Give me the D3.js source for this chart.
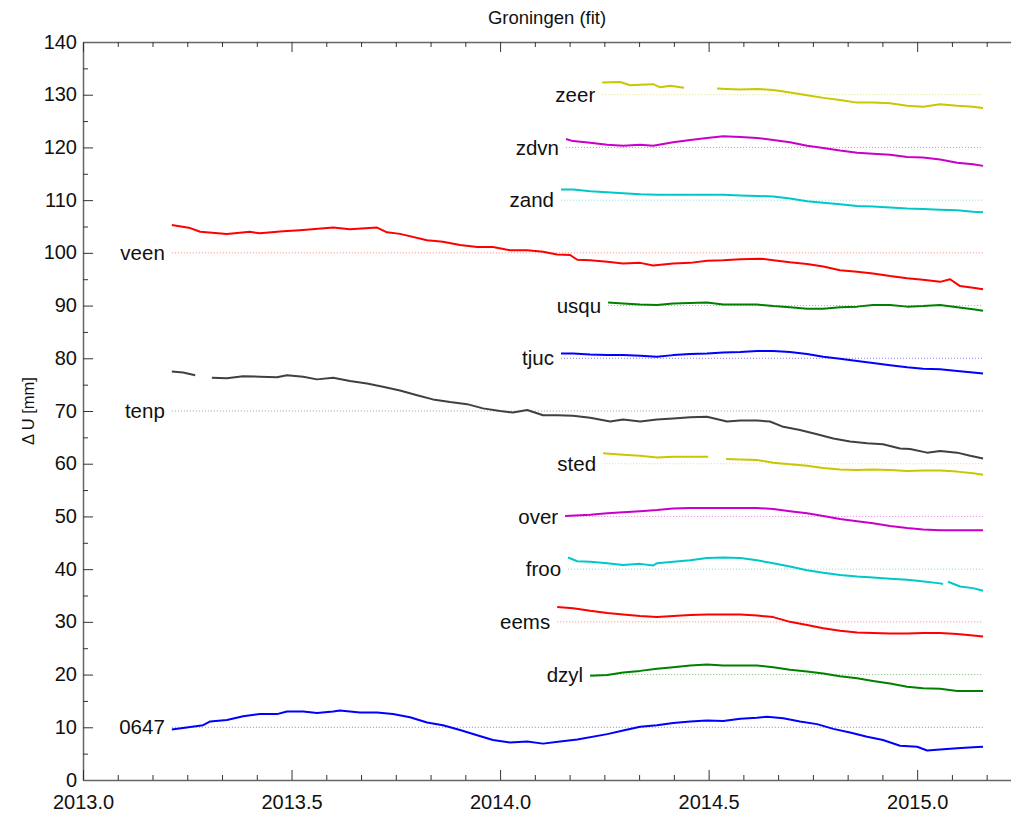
<!DOCTYPE html>
<html><head><meta charset="utf-8">
<script src="https://cdn.jsdelivr.net/npm/d3@7"></script>
<style>
html,body{margin:0;padding:0;background:#fff;}
svg{display:block;font-family:"Liberation Sans",Arial,sans-serif;}
</style></head>
<body><svg id="c" width="1011" height="814"></svg>
<script>
// ---- data ----
const stationNames = ["0647","dzyl","eems","froo","over","sted","tenp","tjuc","usqu","veen","zand","zdvn","zeer"];
const stationOffsets = [10,20,30,40,50,60,70,80,90,100,110,120,130];
const stationColors = ["#0000ff","#008000","#ff0000","#00c8c8","#c800c8","#c8c800","#404040","#0000ff","#008000","#ff0000","#00c8c8","#c800c8","#c8c800"];
const xMajorTicks = [2013.0,2013.5,2014.0,2014.5,2015.0];
const yMajorTicks = [0,10,20,30,40,50,60,70,80,90,100,110,120,130,140];

const s0647 = [[2013.213,9.6],[2013.288,10.4],[2013.305,11.1],[2013.345,11.4],[2013.384,12.1],[2013.424,12.5],[2013.465,12.5],[2013.489,13.0],[2013.528,13.0],[2013.561,12.7],[2013.600,13.0],[2013.616,13.2],[2013.664,12.8],[2013.705,12.8],[2013.743,12.5],[2013.784,11.9],[2013.825,10.9],[2013.863,10.4],[2013.904,9.5],[2013.945,8.5],[2013.983,7.6],[2014.024,7.1],[2014.065,7.3],[2014.103,6.9],[2014.144,7.3],[2014.185,7.7],[2014.257,8.7],[2014.295,9.4],[2014.336,10.1],[2014.376,10.4],[2014.415,10.8],[2014.456,11.1],[2014.496,11.3],[2014.535,11.2],[2014.576,11.6],[2014.616,11.8],[2014.640,12.0],[2014.679,11.7],[2014.719,11.1],[2014.760,10.6],[2014.799,9.7],[2014.839,9.0],[2014.880,8.2],[2014.918,7.6],[2014.959,6.5],[2015.000,6.3],[2015.024,5.6],[2015.055,5.8],[2015.096,6.0],[2015.134,6.2],[2015.158,6.3]];
const sDzyl = [[2014.216,19.8],[2014.257,19.9],[2014.295,20.4],[2014.336,20.7],[2014.376,21.1],[2014.415,21.4],[2014.456,21.7],[2014.496,21.9],[2014.535,21.7],[2014.576,21.7],[2014.616,21.7],[2014.655,21.4],[2014.695,20.9],[2014.736,20.6],[2014.775,20.2],[2014.815,19.7],[2014.856,19.3],[2014.894,18.8],[2014.935,18.3],[2014.976,17.7],[2015.014,17.4],[2015.055,17.3],[2015.096,16.9],[2015.134,16.9],[2015.158,16.9]];
const sEems = [[2014.137,32.8],[2014.175,32.6],[2014.216,32.1],[2014.257,31.7],[2014.295,31.4],[2014.336,31.1],[2014.376,30.9],[2014.415,31.1],[2014.456,31.3],[2014.496,31.4],[2014.535,31.4],[2014.576,31.4],[2014.616,31.2],[2014.655,30.9],[2014.695,30.0],[2014.736,29.4],[2014.775,28.8],[2014.815,28.3],[2014.856,28.0],[2014.894,27.9],[2014.935,27.8],[2014.976,27.8],[2015.014,27.9],[2015.055,27.9],[2015.096,27.7],[2015.134,27.4],[2015.158,27.2]];
const sFroo = [[2014.163,42.2],[2014.185,41.5],[2014.216,41.4],[2014.257,41.1],[2014.295,40.8],[2014.336,41.0],[2014.367,40.7],[2014.376,41.1],[2014.415,41.4],[2014.456,41.7],[2014.496,42.1],[2014.535,42.2],[2014.576,42.1],[2014.616,41.7],[2014.655,41.1],[2014.695,40.5],[2014.736,39.8],[2014.775,39.3],[2014.815,38.9],[2014.856,38.6],[2014.894,38.4],[2014.935,38.2],[2014.976,38.0],[2015.000,37.8],[2015.055,37.3],[2015.062,37.2],[2015.068,null],[2015.074,37.6],[2015.103,36.7],[2015.134,36.4],[2015.158,35.9]];
const sOver = [[2014.156,50.1],[2014.216,50.3],[2014.257,50.6],[2014.295,50.8],[2014.336,51.0],[2014.376,51.2],[2014.415,51.5],[2014.456,51.6],[2014.496,51.6],[2014.535,51.6],[2014.576,51.6],[2014.616,51.6],[2014.655,51.4],[2014.695,51.0],[2014.736,50.6],[2014.775,50.1],[2014.815,49.5],[2014.856,49.1],[2014.894,48.7],[2014.935,48.2],[2014.976,47.8],[2015.014,47.5],[2015.055,47.4],[2015.096,47.4],[2015.134,47.4],[2015.158,47.4]];
const sSted = [[2014.247,62.0],[2014.295,61.7],[2014.336,61.5],[2014.376,61.2],[2014.415,61.3],[2014.456,61.3],[2014.499,61.3],[2014.520,null],[2014.542,60.9],[2014.576,60.8],[2014.616,60.7],[2014.655,60.2],[2014.695,59.9],[2014.736,59.6],[2014.775,59.2],[2014.815,58.9],[2014.856,58.8],[2014.894,58.9],[2014.935,58.8],[2014.976,58.6],[2015.014,58.7],[2015.055,58.7],[2015.096,58.5],[2015.134,58.2],[2015.158,57.9]];
const sTenp = [[2013.213,77.5],[2013.240,77.3],[2013.269,76.8],[2013.290,null],[2013.309,76.3],[2013.345,76.2],[2013.384,76.6],[2013.424,76.5],[2013.465,76.4],[2013.489,76.8],[2013.528,76.5],[2013.561,76.0],[2013.600,76.3],[2013.640,75.7],[2013.681,75.2],[2013.719,74.6],[2013.760,73.9],[2013.801,73.0],[2013.839,72.2],[2013.880,71.7],[2013.921,71.3],[2013.959,70.5],[2014.000,70.0],[2014.031,69.7],[2014.065,70.2],[2014.103,69.2],[2014.137,69.2],[2014.175,69.1],[2014.216,68.7],[2014.264,68.0],[2014.295,68.4],[2014.336,68.0],[2014.376,68.4],[2014.415,68.6],[2014.456,68.8],[2014.496,68.9],[2014.544,68.0],[2014.576,68.2],[2014.616,68.2],[2014.647,68.0],[2014.679,67.0],[2014.719,66.4],[2014.760,65.6],[2014.799,64.8],[2014.839,64.2],[2014.880,63.9],[2014.918,63.7],[2014.959,62.9],[2014.983,62.8],[2015.024,62.1],[2015.055,62.4],[2015.096,62.1],[2015.127,61.5],[2015.158,61.0]];
const sTjuc = [[2014.146,80.9],[2014.175,80.9],[2014.216,80.7],[2014.257,80.6],[2014.295,80.6],[2014.336,80.5],[2014.376,80.3],[2014.415,80.6],[2014.456,80.8],[2014.496,80.9],[2014.535,81.1],[2014.576,81.2],[2014.616,81.4],[2014.655,81.4],[2014.695,81.2],[2014.736,80.8],[2014.775,80.3],[2014.815,79.9],[2014.856,79.5],[2014.894,79.1],[2014.935,78.7],[2014.976,78.3],[2015.014,78.0],[2015.055,77.9],[2015.096,77.6],[2015.134,77.3],[2015.158,77.1]];
const sUsqu = [[2014.259,90.6],[2014.295,90.4],[2014.336,90.2],[2014.376,90.1],[2014.415,90.4],[2014.456,90.5],[2014.496,90.6],[2014.535,90.2],[2014.576,90.2],[2014.616,90.2],[2014.655,89.9],[2014.695,89.7],[2014.736,89.4],[2014.775,89.4],[2014.815,89.7],[2014.856,89.8],[2014.894,90.1],[2014.935,90.1],[2014.976,89.8],[2015.014,89.9],[2015.055,90.1],[2015.096,89.7],[2015.134,89.3],[2015.158,89.0]];
const sVeen = [[2013.213,105.3],[2013.257,104.7],[2013.281,104.0],[2013.345,103.6],[2013.400,104.0],[2013.424,103.7],[2013.480,104.1],[2013.520,104.3],[2013.600,104.8],[2013.640,104.5],[2013.705,104.8],[2013.729,103.9],[2013.760,103.6],[2013.825,102.4],[2013.863,102.1],[2013.904,101.5],[2013.945,101.1],[2013.983,101.1],[2014.024,100.5],[2014.065,100.5],[2014.103,100.2],[2014.137,99.7],[2014.168,99.6],[2014.185,98.7],[2014.216,98.6],[2014.257,98.3],[2014.295,98.0],[2014.336,98.1],[2014.367,97.6],[2014.415,98.0],[2014.456,98.1],[2014.496,98.5],[2014.535,98.6],[2014.576,98.8],[2014.624,98.9],[2014.655,98.6],[2014.695,98.2],[2014.736,97.9],[2014.775,97.4],[2014.815,96.7],[2014.856,96.4],[2014.894,96.1],[2014.935,95.6],[2014.976,95.2],[2015.014,94.9],[2015.055,94.5],[2015.079,95.0],[2015.103,93.7],[2015.134,93.4],[2015.158,93.1]];
const sZand = [[2014.146,112.0],[2014.175,112.0],[2014.216,111.7],[2014.257,111.5],[2014.295,111.3],[2014.336,111.1],[2014.376,111.0],[2014.415,111.0],[2014.456,111.0],[2014.496,111.0],[2014.535,111.0],[2014.576,110.9],[2014.616,110.8],[2014.655,110.7],[2014.695,110.3],[2014.736,109.8],[2014.775,109.5],[2014.815,109.2],[2014.856,108.9],[2014.894,108.8],[2014.935,108.6],[2014.976,108.4],[2015.014,108.3],[2015.055,108.2],[2015.096,108.1],[2015.134,107.8],[2015.158,107.7]];
const sZdvn = [[2014.158,121.6],[2014.175,121.2],[2014.216,120.9],[2014.257,120.5],[2014.295,120.3],[2014.336,120.5],[2014.367,120.3],[2014.415,121.0],[2014.456,121.4],[2014.496,121.8],[2014.535,122.1],[2014.576,122.0],[2014.616,121.8],[2014.655,121.4],[2014.695,121.0],[2014.736,120.3],[2014.775,119.9],[2014.815,119.4],[2014.856,119.0],[2014.894,118.8],[2014.935,118.6],[2014.976,118.2],[2015.014,118.1],[2015.055,117.7],[2015.096,117.1],[2015.134,116.8],[2015.158,116.5]];
const sZeer = [[2014.245,132.3],[2014.288,132.4],[2014.312,131.8],[2014.336,131.9],[2014.367,132.0],[2014.384,131.4],[2014.408,131.7],[2014.441,131.3],[2014.480,null],[2014.520,131.2],[2014.544,131.1],[2014.576,131.0],[2014.616,131.1],[2014.655,130.9],[2014.695,130.4],[2014.736,129.9],[2014.775,129.4],[2014.815,129.0],[2014.856,128.5],[2014.894,128.5],[2014.935,128.4],[2014.976,127.9],[2015.014,127.7],[2015.055,128.2],[2015.096,127.9],[2015.134,127.7],[2015.158,127.5]];
const seriesData = [s0647,sDzyl,sEems,sFroo,sOver,sSted,sTenp,sTjuc,sUsqu,sVeen,sZand,sZdvn,sZeer];

// ---- layout ----
const svg = d3.select("#c");
const L = 83, R = 1011, T = 42, B = 780;
const x = d3.scaleLinear().domain([2013.0, 2015.225]).range([L, R]);
const y = d3.scaleLinear().domain([0, 140]).range([B, T]);

const xMinor = d3.range(0, 27).map(k => 2013 + k/12).filter((v,i) => i % 6 !== 0);
const yMinor = d3.range(5, 140, 10);

// reference dotted lines
seriesData.forEach((s, i) => {
  const t0 = s[0][0], t1 = s[s.length-1][0];
  svg.append("line")
    .attr("x1", x(t0)).attr("x2", x(t1))
    .attr("y1", y(stationOffsets[i])).attr("y2", y(stationOffsets[i]))
    .attr("stroke", stationColors[i]).attr("stroke-opacity", 0.5)
    .attr("stroke-width", 1).attr("stroke-dasharray", "1,2");
});

// series lines
const line = d3.line().defined(d => d[1] != null).x(d => x(d[0])).y(d => y(d[1]));
seriesData.forEach((s, i) => {
  svg.append("path").datum(s).attr("d", line)
    .attr("fill", "none").attr("stroke", stationColors[i])
    .attr("stroke-width", 2).attr("stroke-linejoin", "round");
  svg.append("text")
    .attr("x", x(s[0][0]) - 7).attr("y", y(stationOffsets[i]))
    .attr("text-anchor", "end").attr("dy", "0.35em")
    .attr("font-size", 20.5).attr("fill", "#111")
    .text(stationNames[i]);
});

// axes
function styleAxis(g) {
  g.select(".domain").attr("stroke", "#666").attr("stroke-width", 1.5);
  g.selectAll(".tick line").attr("stroke", "#333");
  g.selectAll(".tick text").attr("font-size", 20).attr("fill", "#111")
    .attr("font-family", '"Liberation Sans",Arial,sans-serif');
}
// left
svg.append("g").attr("transform", `translate(${L},0)`)
  .call(d3.axisLeft(y).tickValues(yMajorTicks).tickSize(-10).tickSizeOuter(0).tickPadding(6).tickFormat(d3.format("d")))
  .call(styleAxis)
  .call(g => g.selectAll(".tick text").attr("dy", "0.3em"));
svg.append("g").attr("transform", `translate(${L},0)`)
  .call(d3.axisLeft(y).tickValues(yMinor).tickSize(-5).tickSizeOuter(0).tickFormat(""))
  .call(g => g.select(".domain").remove())
  .call(g => g.selectAll(".tick line").attr("stroke", "#333"));
// bottom
svg.append("g").attr("transform", `translate(0,${B})`)
  .call(d3.axisBottom(x).tickValues(xMajorTicks).tickSize(-10).tickSizeOuter(0).tickPadding(15).tickFormat(d3.format(".1f")))
  .call(styleAxis);
svg.append("g").attr("transform", `translate(0,${B})`)
  .call(d3.axisBottom(x).tickValues(xMinor).tickSize(-5).tickSizeOuter(0).tickFormat(""))
  .call(g => g.select(".domain").remove())
  .call(g => g.selectAll(".tick line").attr("stroke", "#333"));
// top
svg.append("g").attr("transform", `translate(0,${T})`)
  .call(d3.axisTop(x).tickValues(xMajorTicks).tickSize(-10).tickSizeOuter(0).tickFormat(""))
  .call(styleAxis);
svg.append("g").attr("transform", `translate(0,${T})`)
  .call(d3.axisTop(x).tickValues(xMinor).tickSize(-5).tickSizeOuter(0).tickFormat(""))
  .call(g => g.select(".domain").remove())
  .call(g => g.selectAll(".tick line").attr("stroke", "#333"));

// title & y label
svg.append("text").attr("x", (L + R) / 2).attr("y", 24)
  .attr("text-anchor", "middle").attr("font-size", 18.5).attr("fill", "#111")
  .text("Groningen (fit)");
svg.append("text").attr("transform", `translate(34,${(T + B) / 2}) rotate(-90)`)
  .attr("text-anchor", "middle").attr("font-size", 16.5).attr("fill", "#111")
  .text("Δ U [mm]");
</script></body></html>
